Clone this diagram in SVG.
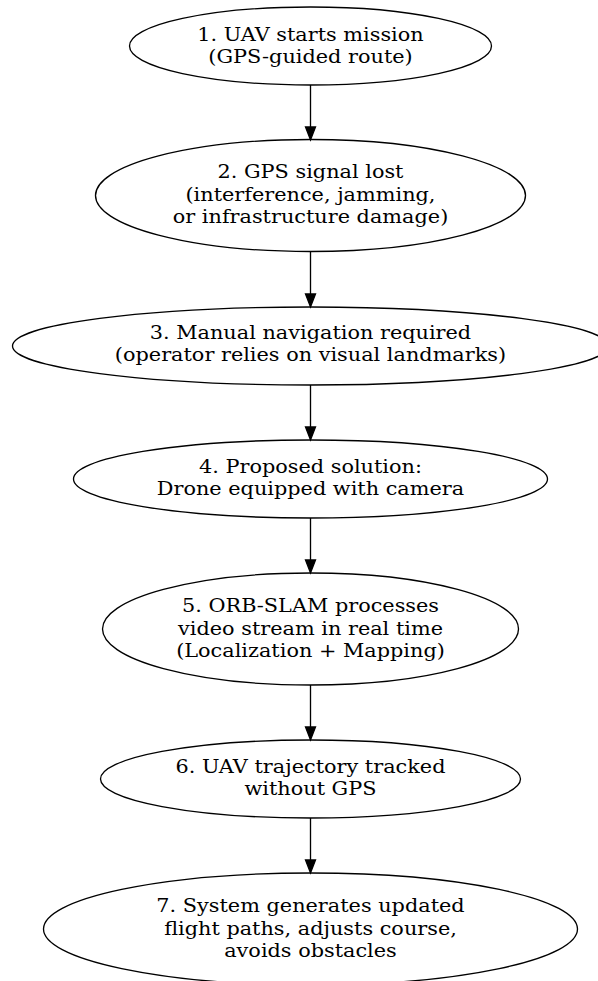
<svg xmlns="http://www.w3.org/2000/svg" width="598" height="981" viewBox="0 0 598 981">
<style>
.n ellipse{fill:none;stroke:#000;stroke-width:1.33}
.n text{font-family:"DejaVu Serif",serif;font-size:18.67px;text-anchor:middle;fill:#000}
.e line{stroke:#000;stroke-width:1.33}
.e polygon{fill:#000;stroke:#000;stroke-width:1.33}
</style>
<rect width="598" height="981" fill="#fff"/>
<g id="n1" class="n"><ellipse cx="310.5" cy="46" rx="181" ry="39"/><g transform="matrix(1.115 0 0 1 -35.71 0)"><text x="310.5" y="40.6">1. UAV starts mission</text><text x="310.5" y="63">(GPS-guided route)</text></g></g>
<g id="n2" class="n"><ellipse cx="310.5" cy="195.5" rx="215" ry="56"/><g transform="matrix(1.115 0 0 1 -35.71 0)"><text x="310.5" y="178.2">2. GPS signal lost</text><text x="310.5" y="200.6">(interference, jamming,</text><text x="310.5" y="223">or infrastructure damage)</text></g></g>
<g id="n3" class="n"><ellipse cx="310.5" cy="346" rx="298" ry="39"/><g transform="matrix(1.115 0 0 1 -35.71 0)"><text x="310.5" y="339">3. Manual navigation required</text><text x="310.5" y="361.4">(operator relies on visual landmarks)</text></g></g>
<g id="n4" class="n"><ellipse cx="310.5" cy="479" rx="237" ry="39"/><g transform="matrix(1.115 0 0 1 -35.71 0)"><text x="310.5" y="472.9">4. Proposed solution:</text><text x="310.5" y="495.3">Drone equipped with camera</text></g></g>
<g id="n5" class="n"><ellipse cx="310.5" cy="629" rx="208" ry="56"/><g transform="matrix(1.115 0 0 1 -35.71 0)"><text x="310.5" y="612.2">5. ORB-SLAM processes</text><text x="310.5" y="634.6">video stream in real time</text><text x="310.5" y="657">(Localization + Mapping)</text></g></g>
<g id="n6" class="n"><ellipse cx="310.5" cy="779" rx="210" ry="39"/><g transform="matrix(1.115 0 0 1 -35.71 0)"><text x="310.5" y="772.9">6. UAV trajectory tracked</text><text x="310.5" y="795.3">without GPS</text></g></g>
<g id="n7" class="n"><ellipse cx="310.5" cy="929" rx="267" ry="56"/><g transform="matrix(1.115 0 0 1 -35.71 0)"><text x="310.5" y="912.2">7. System generates updated</text><text x="310.5" y="934.6">flight paths, adjusts course,</text><text x="310.5" y="957">avoids obstacles</text></g></g>
<g id="edges" class="e">
<line x1="310.5" y1="85" x2="310.5" y2="127"/><polygon points="305.5,127 315.5,127 310.5,140"/>
<line x1="310.5" y1="251.5" x2="310.5" y2="294"/><polygon points="305.5,294 315.5,294 310.5,307"/>
<line x1="310.5" y1="385" x2="310.5" y2="427"/><polygon points="305.5,427 315.5,427 310.5,440"/>
<line x1="310.5" y1="518" x2="310.5" y2="560"/><polygon points="305.5,560 315.5,560 310.5,573"/>
<line x1="310.5" y1="685" x2="310.5" y2="727"/><polygon points="305.5,727 315.5,727 310.5,740"/>
<line x1="310.5" y1="818" x2="310.5" y2="860"/><polygon points="305.5,860 315.5,860 310.5,873"/>
</g>
</svg>
